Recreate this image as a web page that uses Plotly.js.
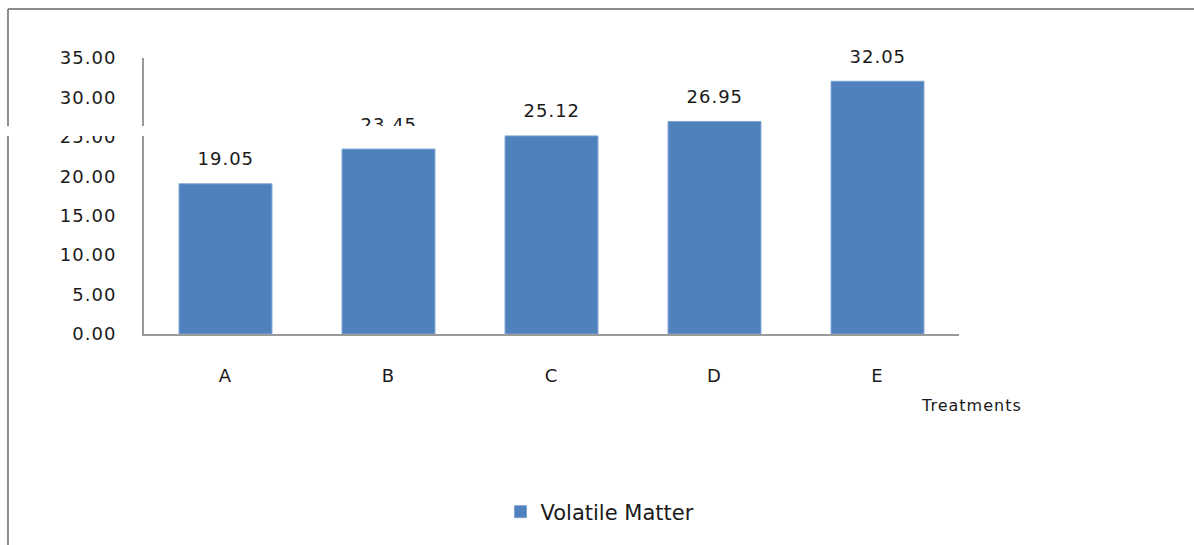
<!DOCTYPE html>
<html>
<head>
<meta charset="utf-8">
<script src="https://cdn.plot.ly/plotly-3.0.1.min.js"></script>
<style>
html,body{margin:0;padding:0;background:#fff;}
#chart{width:1194px;height:545px;}
#chart svg text{letter-spacing:1px;}
#chart svg .legend text{letter-spacing:0;}
</style>
</head>
<body>
<div id="chart"></div>
<script>
const treatments = ['A', 'B', 'C', 'D', 'E'];
const volatileMatter = [19.05, 23.45, 25.12, 26.95, 32.05];
const yTickValues = [0, 5, 10, 15, 20, 25, 30, 35];
const seriesName = 'Volatile Matter';
const xAxisLabel = 'Treatments';

const barColor = '#4F81BD';
const font = 'DejaVu Sans, sans-serif';
const textColor = '#1a1a1a';

const trace = {
  type: 'bar',
  x: treatments,
  y: volatileMatter,
  name: seriesName,
  marker: {color: barColor, line: {color: '#7FA3D4', width: 1}},
  hoverinfo: 'skip'
};

const valueLabels = treatments.map((t, i) => ({
  x: t, y: volatileMatter[i], xref: 'x', yref: 'y',
  text: volatileMatter[i].toFixed(2), showarrow: false,
  yanchor: 'middle', yshift: 25,
  font: {family: font, size: 18, color: textColor}
}));

const layout = {
  width: 1194, height: 545,
  margin: {l: 144, r: 235, t: 58, b: 211},
  paper_bgcolor: '#fff', plot_bgcolor: '#fff',
  showlegend: true,
  bargap: 0.43,
  xaxis: {
    type: 'category', showgrid: false, zeroline: false,
    showline: true, linecolor: '#9a9a9a', linewidth: 2,
    ticks: '', ticklabelstandoff: 24,
    tickfont: {family: font, size: 18, color: textColor}
  },
  yaxis: {
    range: [0, 35], tickvals: yTickValues, tickformat: '.2f',
    showgrid: false, zeroline: false,
    showline: true, linecolor: '#9a9a9a', linewidth: 2,
    ticks: '', ticklabelstandoff: 22,
    tickfont: {family: font, size: 18, color: textColor}
  },
  legend: {
    orientation: 'h', x: 0.5595, y: -0.645, xanchor: 'center', yanchor: 'middle',
    font: {family: font, size: 21, color: textColor}, itemwidth: 30
  },
  shapes: [
    {type: 'line', xref: 'paper', yref: 'paper', x0: -0.1669, x1: 1.3, y0: 1.1775, y1: 1.1775,
     line: {color: '#8c8c8c', width: 2}},
    {type: 'line', xref: 'paper', yref: 'paper', x0: -0.1669, x1: -0.1669, y0: 1.1775, y1: -0.8,
     line: {color: '#8c8c8c', width: 2}}
  ],
  annotations: valueLabels.concat([
    {xref: 'paper', yref: 'paper', x: 1.0153, y: -0.258, text: xAxisLabel, showarrow: false,
     xanchor: 'center', yanchor: 'middle', font: {family: font, size: 16, color: textColor}},
    {xref: 'paper', yref: 'paper', x: -0.1767, y: (334 - 131) / 276, xanchor: 'left', yanchor: 'middle',
     text: ' ', showarrow: false, width: 440, height: 10, bgcolor: '#ffffff', borderpad: 0, borderwidth: 0}
  ])
};

Plotly.newPlot('chart', [trace], layout, {displayModeBar: false, staticPlot: true});
</script>
</body>
</html>
